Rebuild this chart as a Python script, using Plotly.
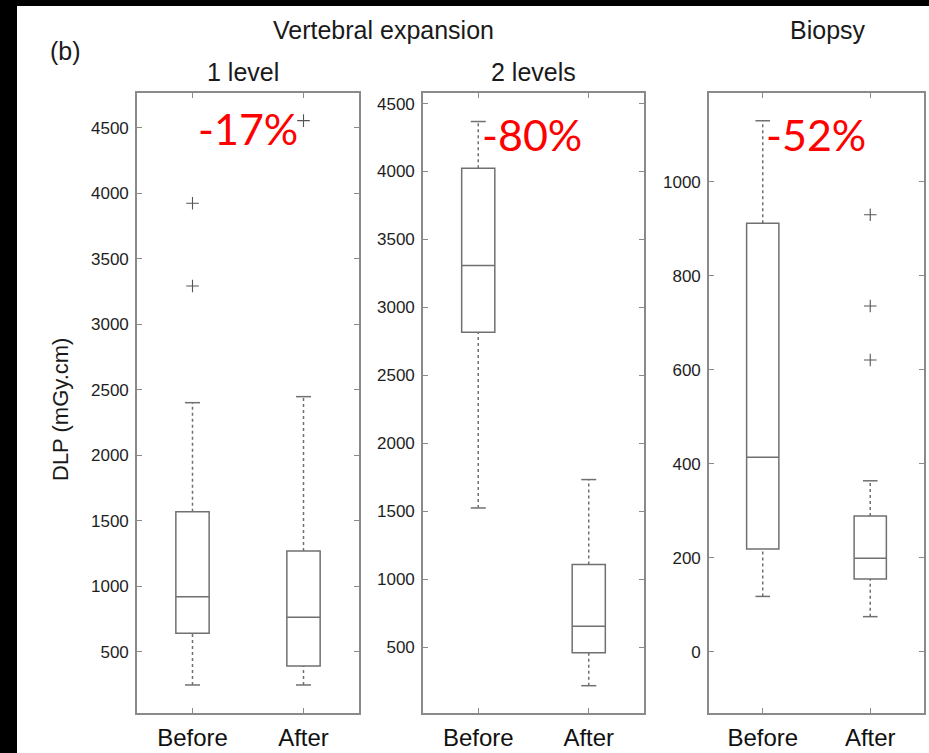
import plotly.graph_objects as go

# ---- data -------------------------------------------------------------
categories = ["Before", "After"]
panel_titles = ["1 level", "2 levels", "Biopsy"]
reductions = ["-17%", "-80%", "-52%"]

# 1 level (vertebral expansion)
lvl1_low = [248, 248]
lvl1_q1 = [643, 393]
lvl1_median = [922, 765]
lvl1_q3 = [1571, 1271]
lvl1_high = [2403, 2449]
lvl1_outliers = [[3294, 3925], [4556]]

# 2 levels (vertebral expansion)
lvl2_low = [1524, 216]
lvl2_q1 = [2818, 458]
lvl2_median = [3309, 654]
lvl2_q3 = [4024, 1108]
lvl2_high = [4368, 1733]
lvl2_outliers = [[], []]

# biopsy
bio_low = [118, 75]
bio_q1 = [219, 155]
bio_median = [414, 199]
bio_q3 = [912, 289]
bio_high = [1130, 364]
bio_outliers = [[], [621, 736, 930]]

y_ranges = [[34, 4767], [15, 4578], [-130, 1189]]
y_ticks = [[500, 1000, 1500, 2000, 2500, 3000, 3500, 4000, 4500],
           [500, 1000, 1500, 2000, 2500, 3000, 3500, 4000, 4500],
           [0, 200, 400, 600, 800, 1000]]

panels = [
    (lvl1_low, lvl1_q1, lvl1_median, lvl1_q3, lvl1_high, lvl1_outliers),
    (lvl2_low, lvl2_q1, lvl2_median, lvl2_q3, lvl2_high, lvl2_outliers),
    (bio_low, bio_q1, bio_median, bio_q3, bio_high, bio_outliers),
]

# ---- page geometry (pixels) ---------------------------------------------
W, H = 929, 753
frame_x = [(137, 359), (423, 644), (709, 924)]
frame_top, frame_bottom = 93, 713


def px(x):
    return x / W


def py(y):
    return 1 - y / H


FONT = "Liberation Sans, Arial, sans-serif"
LINE = "#707070"
FRAME = "#8a8a8a"
xpos = [1, 2]
box_w = 0.30
cap_half = 0.068

fig = go.Figure()
layout_axes = {}

for i, (low, q1, med, q3, high, outl) in enumerate(panels):
    n = "" if i == 0 else str(i + 1)
    xa, ya = "x" + n, "y" + n

    # box body and median
    fig.add_trace(go.Box(
        x=xpos, q1=q1, median=med, q3=q3, lowerfence=q1, upperfence=q3,
        width=box_w, fillcolor="white", line=dict(color=LINE, width=1.5),
        boxpoints=False, whiskerwidth=0, xaxis=xa, yaxis=ya,
        showlegend=False, hoverinfo="skip"))

    # dotted whiskers
    wx, wy = [], []
    for k in range(len(xpos)):
        wx += [xpos[k], xpos[k], None, xpos[k], xpos[k], None]
        wy += [q3[k], high[k], None, low[k], q1[k], None]
    fig.add_trace(go.Scatter(
        x=wx, y=wy, mode="lines", line=dict(color=LINE, width=1.5, dash="dot"),
        xaxis=xa, yaxis=ya, showlegend=False, hoverinfo="skip"))

    # whisker caps
    cx, cy = [], []
    for k in range(len(xpos)):
        for v in (low[k], high[k]):
            cx += [xpos[k] - cap_half, xpos[k] + cap_half, None]
            cy += [v, v, None]
    fig.add_trace(go.Scatter(
        x=cx, y=cy, mode="lines", line=dict(color=LINE, width=1.5),
        xaxis=xa, yaxis=ya, showlegend=False, hoverinfo="skip"))

    # outliers
    ox, oy = [], []
    for k in range(len(xpos)):
        ox += [xpos[k]] * len(outl[k])
        oy += outl[k]
    if ox:
        fig.add_trace(go.Scatter(
            x=ox, y=oy, mode="markers",
            marker=dict(symbol="cross-thin", size=9,
                        line=dict(color="#555555", width=1.1)),
            xaxis=xa, yaxis=ya, showlegend=False, hoverinfo="skip"))

    x0, x1 = frame_x[i]
    layout_axes["xaxis" + n] = dict(
        domain=[px(x0), px(x1)], range=[0.5, 2.5], anchor=ya,
        tickvals=xpos, ticktext=categories, ticks="inside", ticklen=5,
        tickcolor=FRAME, mirror="allticks", showline=True, linecolor=FRAME,
        linewidth=1.6, showgrid=False, zeroline=False, fixedrange=True,
        tickfont=dict(family=FONT, size=24, color="#111111"),
        ticklabelstandoff=2)
    layout_axes["yaxis" + n] = dict(
        domain=[py(frame_bottom), py(frame_top)], range=y_ranges[i],
        anchor=xa, tickvals=y_ticks[i], ticks="inside", ticklen=5,
        tickcolor=FRAME, mirror="allticks", showline=True, linecolor=FRAME,
        linewidth=1.6, showgrid=False, zeroline=False, fixedrange=True,
        tickfont=dict(family=FONT, size=17, color="#1e1e1e"),
        ticklabelstandoff=3)

annotations = []


def note(text, x, y, size, color="#1a1a1a", family=FONT, angle=0):
    annotations.append(dict(
        text=text, x=px(x), y=py(y), xref="paper", yref="paper",
        xanchor="center", yanchor="middle", showarrow=False, textangle=angle,
        font=dict(family=family, size=size, color=color)))


note("(b)", 65, 51, 25)
note("Vertebral expansion", 383, 30, 25)
note("Biopsy", 828, 30, 25)
note(panel_titles[0], 243, 72, 25)
note(panel_titles[1], 533, 72, 25)
note("DLP (mGy.cm)", 61, 410, 22, angle=-90)

pct_pos = [(248, 129), (532, 134), (816, 134)]
for txt, (x, y) in zip(reductions, pct_pos):
    note(txt, x, y, 43, color="#ff0000", family="Lato, Liberation Sans, sans-serif")

# dark strips along the top and left edges of the page
shapes = [
    dict(type="rect", xref="paper", yref="paper", x0=0, x1=px(17), y0=0, y1=1,
         fillcolor="black", line=dict(width=0), layer="above"),
    dict(type="rect", xref="paper", yref="paper", x0=0, x1=1, y0=py(6), y1=1,
         fillcolor="black", line=dict(width=0), layer="above"),
]

fig.update_layout(
    width=W, height=H, margin=dict(l=0, r=0, t=0, b=0),
    paper_bgcolor="white", plot_bgcolor="white",
    annotations=annotations, shapes=shapes, **layout_axes)

fig.write_html("out.html", config={"displayModeBar": False})
